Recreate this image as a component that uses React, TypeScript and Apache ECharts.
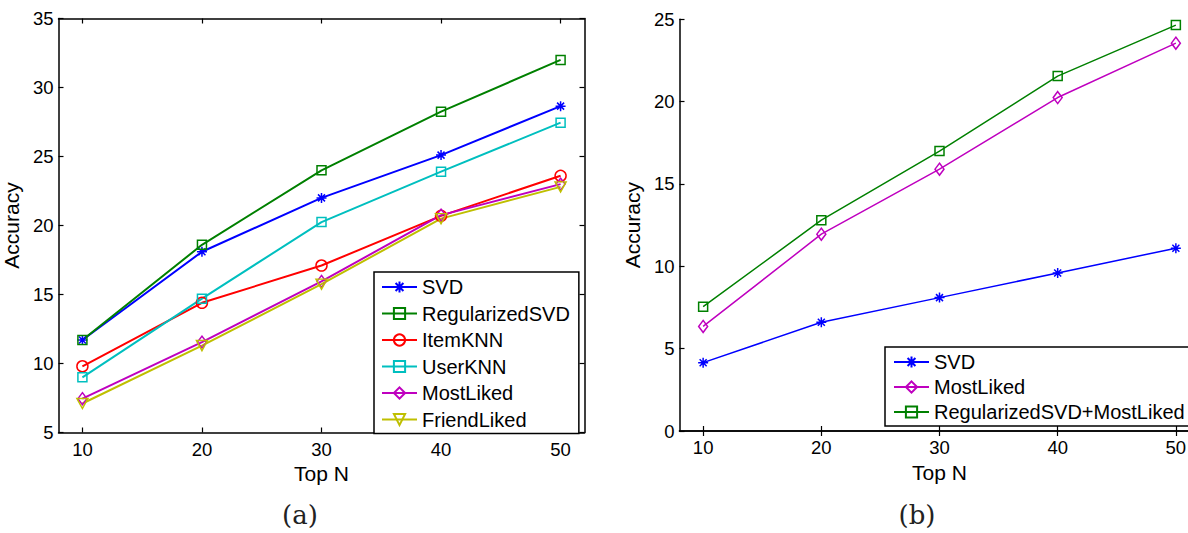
import React, { useEffect, useRef } from "react";
import * as echarts from "echarts";

const xTicks = [10, 20, 30, 40, 50];

const leftSvd = [11.7, 18.1, 22.0, 25.1, 28.65];
const leftRegSvd = [11.7, 18.6, 24.0, 28.25, 32.0];
const leftItemKnn = [9.8, 14.4, 17.1, 20.7, 23.6];
const leftUserKnn = [9.0, 14.7, 20.25, 23.9, 27.45];
const leftMostLiked = [7.45, 11.55, 15.95, 20.75, 23.0];
const leftFriendLiked = [7.1, 11.3, 15.75, 20.5, 22.8];

const rightSvd = [4.15, 6.6, 8.1, 9.6, 11.1];
const rightMostLiked = [6.35, 11.95, 15.9, 20.25, 23.55];
const rightRegMost = [7.55, 12.8, 17.0, 21.55, 24.65];

const leftYTicks = [5, 10, 15, 20, 25, 30, 35];
const rightYTicks = [0, 5, 10, 15, 20, 25];

const FONT = "'Liberation Sans'";
const SERIF = "'DejaVu Serif'";
const BLUE = "#0000ff";
const GREEN = "#008000";
const RED = "#ff0000";
const CYAN = "#00bfbf";
const MAGENTA = "#bf00bf";
const YELLOW = "#bfbf00";

const ASTERISK = "path://M5 0 L5 10 M0 5 L10 5 M1.5 1.5 L8.5 8.5 M8.5 1.5 L1.5 8.5";
const TRI_DOWN = "path://M0 0 L10 0 L5 9 Z";

const pairs = (ys: number[]) => xTicks.map((x, i) => [x, ys[i]]);

function mkSeries(name: string, ys: number[], color: string, symbol: string, size: any, width: number) {
  return {
    type: "line",
    name,
    data: pairs(ys),
    symbol,
    symbolSize: size,
    lineStyle: { color, width },
    itemStyle: { color: "transparent", borderColor: color, borderWidth: 1.5 },
    emphasis: { disabled: true },
    z: 3,
  };
}

function axes(yMin: number, yMax: number, yTicks: number[], nameGapY: number) {
  const common = {
    type: "value",
    min: 8,
    max: 52,
    axisLine: { show: true, lineStyle: { color: "#000", width: 1.5 } },
    splitLine: { show: false },
  };
  const xAxis = [
    {
      ...common,
      position: "bottom",
      name: "Top N",
      nameLocation: "middle",
      nameGap: 22,
      nameTextStyle: { fontFamily: FONT, fontSize: 21, color: "#000" },
      axisTick: { inside: true, length: 5, customValues: xTicks, lineStyle: { color: "#000", width: 1.2 } },
      axisLabel: { customValues: xTicks, fontFamily: FONT, fontSize: 18.5, color: "#000", margin: 7 },
    },
    {
      ...common,
      position: "top",
      axisTick: { inside: true, length: 5, customValues: xTicks, lineStyle: { color: "#000", width: 1.2 } },
      axisLabel: { show: false },
    },
  ];
  const ycommon = {
    type: "value",
    min: yMin,
    max: yMax,
    interval: 5,
    axisLine: { show: true, lineStyle: { color: "#000", width: 1.5 } },
    splitLine: { show: false },
  };
  const yAxis = [
    {
      ...ycommon,
      position: "left",
      name: "Accuracy",
      nameLocation: "middle",
      nameGap: nameGapY,
      nameTextStyle: { fontFamily: FONT, fontSize: 21, color: "#000" },
      axisTick: { inside: true, length: 5, lineStyle: { color: "#000", width: 1.2 } },
      axisLabel: { fontFamily: FONT, fontSize: 18.5, color: "#000", margin: 5 },
    },
    {
      ...ycommon,
      position: "right",
      axisTick: { inside: true, length: 5, lineStyle: { color: "#000", width: 1.2 } },
      axisLabel: { show: false },
    },
  ];
  return { xAxis, yAxis };
}

function Chart({ option, style }: { option: any; style: any }) {
  const ref = useRef<HTMLDivElement>(null);
  useEffect(() => {
    if (!ref.current) return;
    const chart = echarts.init(ref.current, undefined, { renderer: "svg" });
    chart.setOption(option);
    return () => chart.dispose();
  }, []);
  return <div ref={ref} style={style} />;
}

export default function App() {
  const leftAx = axes(5, 35, leftYTicks, 25);
  const leftOption = {
    animation: false,
    backgroundColor: "#fff",
    textStyle: { fontFamily: FONT },
    grid: { left: 58.5, top: 18.5, width: 526, height: 414, containLabel: false, outerBoundsMode: "none" },
    ...leftAx,
    legend: {
      orient: "vertical",
      left: 374,
      top: 272,
      padding: [5, 9, 4, 7],
      itemGap: 6.5,
      itemWidth: 35,
      itemHeight: 14,
      backgroundColor: "#fff",
      borderColor: "#000",
      borderWidth: 1.5,
      selectedMode: false,
      textStyle: { fontFamily: FONT, fontSize: 20, color: "#000", lineHeight: 19 },
      data: ["SVD", "RegularizedSVD", "ItemKNN", "UserKNN", "MostLiked", "FriendLiked"],
    },
    series: [
      mkSeries("SVD", leftSvd, BLUE, ASTERISK, 10, 2),
      mkSeries("RegularizedSVD", leftRegSvd, GREEN, "rect", 9, 2),
      mkSeries("ItemKNN", leftItemKnn, RED, "circle", 11, 2),
      mkSeries("UserKNN", leftUserKnn, CYAN, "rect", 9, 2),
      mkSeries("MostLiked", leftMostLiked, MAGENTA, "diamond", [9, 12], 2),
      mkSeries("FriendLiked", leftFriendLiked, YELLOW, TRI_DOWN, [11, 10], 2),
    ],
    graphic: [
      {
        type: "text",
        x: 300,
        y: 515,
        style: { text: "(a)", fontFamily: SERIF, fontSize: 26, fill: "#222", align: "center", verticalAlign: "middle" },
      },
    ],
  };

  const rightAx = axes(0, 25, rightYTicks, 25);
  const rightOption = {
    animation: false,
    backgroundColor: "#fff",
    textStyle: { fontFamily: FONT },
    grid: { left: 79.5, top: 19.3, width: 520, height: 411.7, containLabel: false, outerBoundsMode: "none" },
    ...rightAx,
    legend: {
      orient: "vertical",
      left: 285,
      top: 347,
      padding: [5, 8, 4, 8],
      itemGap: 5,
      itemWidth: 35,
      itemHeight: 14,
      backgroundColor: "#fff",
      borderColor: "#000",
      borderWidth: 1.5,
      selectedMode: false,
      textStyle: { fontFamily: FONT, fontSize: 20, color: "#000", lineHeight: 19 },
      data: ["SVD", "MostLiked", "RegularizedSVD+MostLiked"],
    },
    series: [
      mkSeries("SVD", rightSvd, BLUE, ASTERISK, 10, 1.5),
      mkSeries("MostLiked", rightMostLiked, MAGENTA, "diamond", [9, 12], 1.5),
      mkSeries("RegularizedSVD+MostLiked", rightRegMost, GREEN, "rect", 9, 1.5),
    ],
    graphic: [
      {
        type: "text",
        x: 317,
        y: 515,
        style: { text: "(b)", fontFamily: SERIF, fontSize: 26, fill: "#222", align: "center", verticalAlign: "middle" },
      },
    ],
  };

  return (
    <div style={{ position: "fixed", left: 0, top: 0, width: 1188, height: 533, background: "#fff", overflow: "hidden" }}>
      <Chart option={leftOption} style={{ position: "absolute", left: 0, top: 0, width: 600, height: 533 }} />
      <Chart option={rightOption} style={{ position: "absolute", left: 600, top: 0, width: 588, height: 533 }} />
    </div>
  );
}
